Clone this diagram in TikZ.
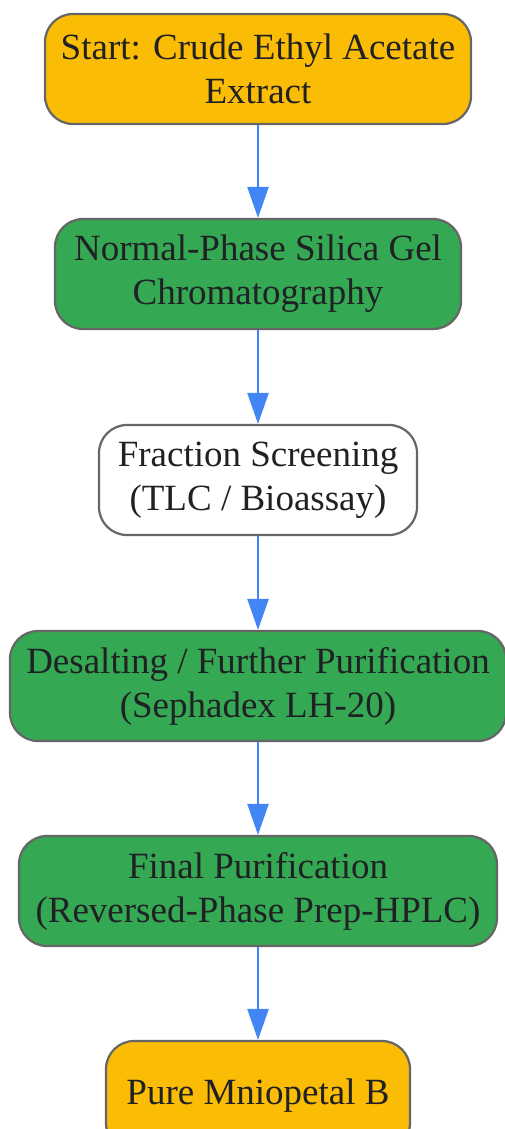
\documentclass[tikz,border=0pt]{standalone}
\usepackage{fontspec}
\setmainfont{Liberation Serif}
\usetikzlibrary{arrows.meta}
\definecolor{orangefill}{HTML}{FBBC05}
\definecolor{greenfill}{HTML}{34A853}
\definecolor{bordergray}{HTML}{666666}
\definecolor{arrowblue}{HTML}{4285F4}
\definecolor{textcol}{HTML}{202124}
\tikzset{
  box/.style={draw=bordergray, line width=2.2pt, rounded corners=28pt,
    minimum height=110pt, align=center, text=textcol, inner sep=0pt,
    font=\fontsize{37}{44}\selectfont},
  orangebox/.style={box, fill=orangefill},
  greenbox/.style={box, fill=greenfill},
  whitebox/.style={box, fill=white},
  flow/.style={draw=arrowblue, line width=2.4pt,
    -{Triangle[width=21pt,length=31pt]}}
}
\begin{document}
\begin{tikzpicture}[x=1pt,y=1pt]
\useasboundingbox (0,0) rectangle (504,-1129);
\node[orangebox, minimum width=426pt] (n1) at (258,-69) {Start: Crude Ethyl Acetate\\Extract};
\node[greenbox, minimum width=406pt] (n2) at (258,-274) {Normal-Phase Silica Gel\\Chromatography};
\node[whitebox, minimum width=318pt] (n3) at (258,-480) {Fraction Screening\\(TLC / Bioassay)};
\node[greenbox, minimum width=496pt] (n4) at (258,-686) {Desalting / Further Purification\\(Sephadex LH-20)};
\node[greenbox, minimum width=478pt] (n5) at (258,-891) {Final Purification\\(Reversed-Phase Prep-HPLC)};
\node[orangebox, minimum width=304pt] (n6) at (258,-1096) {Pure Mniopetal B};
\draw[flow] (n1) -- (n2);
\draw[flow] (n2) -- (n3);
\draw[flow] (n3) -- (n4);
\draw[flow] (n4) -- (n5);
\draw[flow] (n5) -- (n6);
\end{tikzpicture}
\end{document}
